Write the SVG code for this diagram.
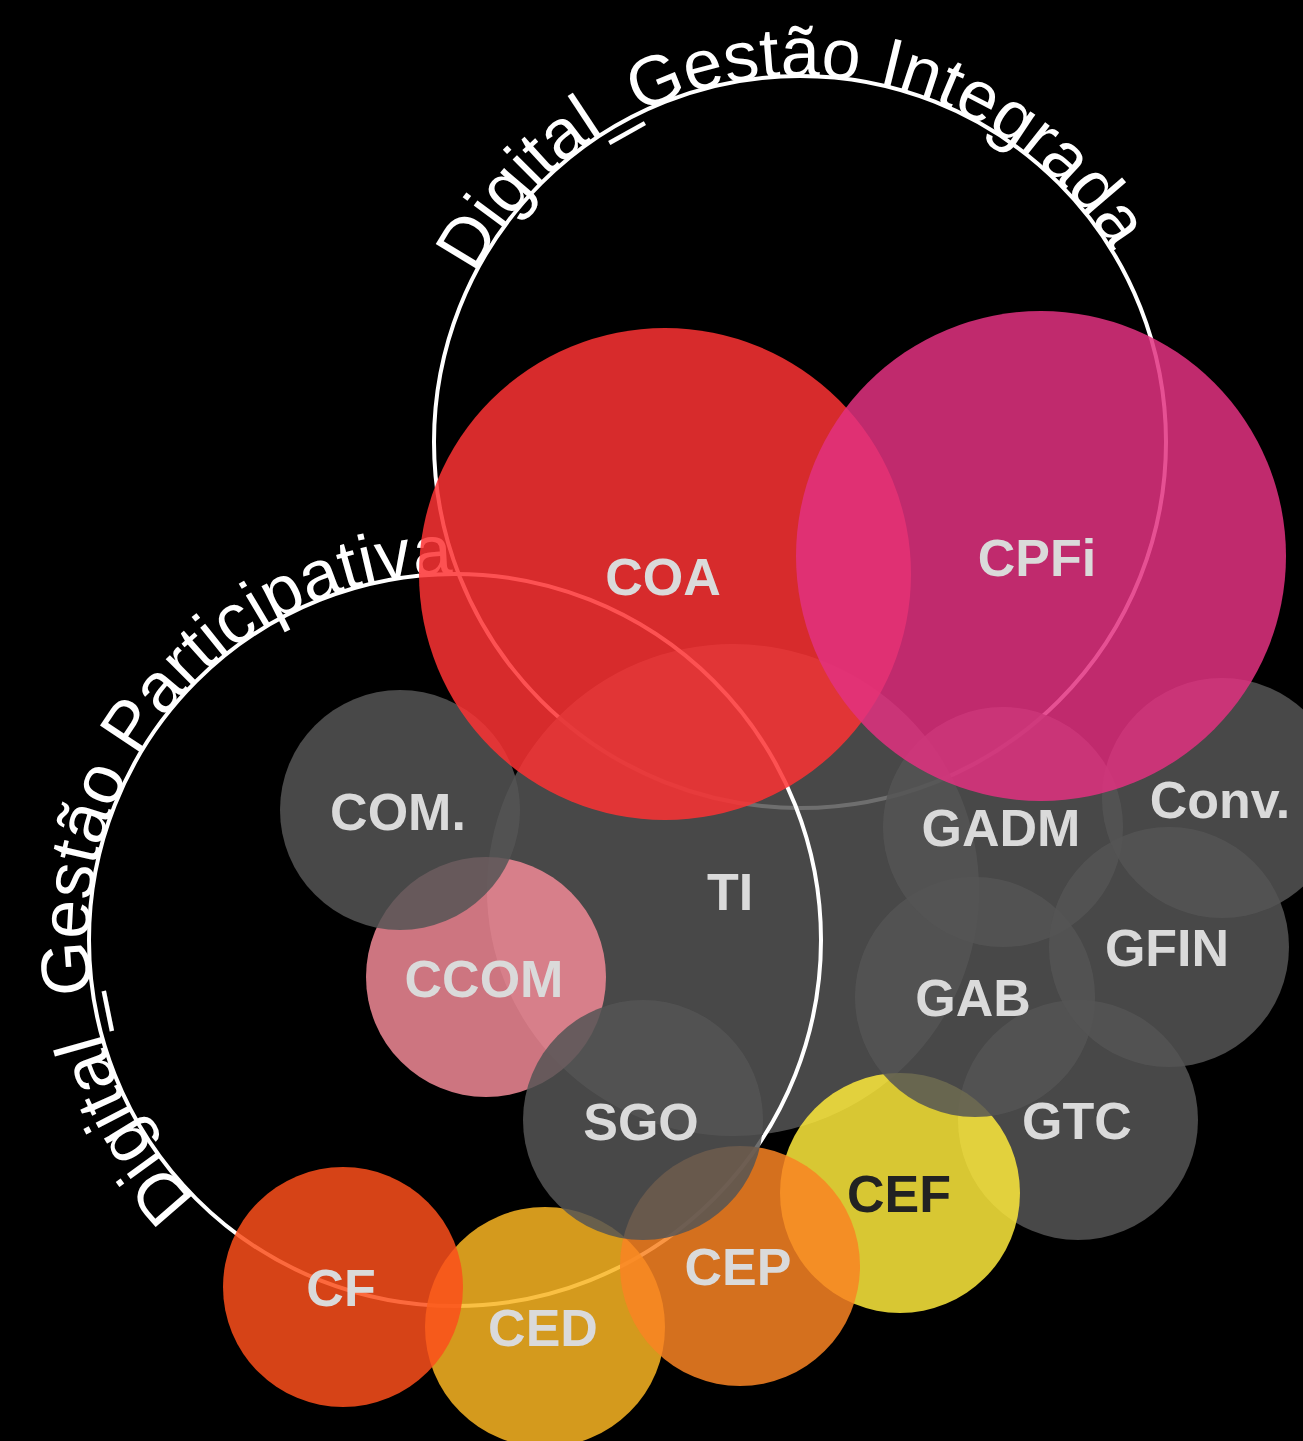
<svg xmlns="http://www.w3.org/2000/svg" width="1303" height="1441" viewBox="0 0 1303 1441">
<style>
.ring{fill:none;stroke:#fff;stroke-width:4}
.ringtext{font-family:"Liberation Sans",Arial,sans-serif;font-size:70px;fill:#fff}
.n{fill-opacity:.85}
.grey{fill:#555555}
.lbl{font-family:"Liberation Sans",Arial,sans-serif;font-weight:bold;font-size:52px;fill:#dadada;text-anchor:middle}
.dark{fill:#222222}
</style>
<defs>
<path id="pInt" d="M 434 442 A 366 366 0 0 1 1166 442 A 366 366 0 0 1 434 442"/>
<path id="pPar" d="M 455 1306 A 366 366 0 0 1 455 574 A 366 366 0 0 1 455 1306"/>
</defs>
<rect width="1303" height="1441" fill="#000"/>
<g id="set-gestao-integrada">
<circle class="ring" cx="800" cy="442" r="366"/>
<text class="ringtext"><textPath href="#pInt" startOffset="174">Digital_Gestão Integrada</textPath></text>
</g>
<g id="node-TI"><circle class="n grey" cx="733" cy="890" r="246"/><text class="lbl" x="730" y="910">TI</text></g>
<g id="set-gestao-participativa">
<circle class="ring" cx="455" cy="940" r="366"/>
<text class="ringtext"><textPath href="#pPar" startOffset="287">Digital_Gestão Participativa</textPath></text>
</g>
<g id="node-GTC"><circle class="n grey" cx="1078" cy="1120" r="120"/><text class="lbl" x="1077" y="1139">GTC</text></g>
<g id="node-CEF"><circle class="n" fill="#feea3c" cx="900" cy="1193" r="120"/><text class="lbl dark" x="899" y="1212">CEF</text></g>
<g id="node-GAB"><circle class="n grey" cx="975" cy="997" r="120"/><text class="lbl" x="973" y="1016">GAB</text></g>
<g id="node-CED"><circle class="n" fill="#f9b522" cx="545" cy="1327" r="120"/><text class="lbl" x="543" y="1346">CED</text></g>
<g id="node-CF"><circle class="n" fill="#fb4f1b" cx="343" cy="1287" r="120"/><text class="lbl" x="341" y="1306">CF</text></g>
<g id="node-CEP"><circle class="n" fill="#f98423" cx="740" cy="1266" r="120"/><text class="lbl" x="738" y="1285">CEP</text></g>
<g id="node-CCOM"><circle class="n" fill="#f18a97" cx="486" cy="977" r="120"/><text class="lbl" x="484" y="997">CCOM</text></g>
<g id="node-COM"><circle class="n grey" cx="400" cy="810" r="120"/><text class="lbl" x="398" y="830">COM.</text></g>
<g id="node-SGO"><circle class="n grey" cx="643" cy="1120" r="120"/><text class="lbl" x="641" y="1140">SGO</text></g>
<g id="node-GADM"><circle class="n grey" cx="1003" cy="827" r="120"/><text class="lbl" x="1001" y="846">GADM</text></g>
<g id="node-GFIN"><circle class="n grey" cx="1169" cy="947" r="120"/><text class="lbl" x="1167" y="966">GFIN</text></g>
<g id="node-Conv"><circle class="n grey" cx="1222" cy="798" r="120"/><text class="lbl" x="1220" y="818">Conv.</text></g>
<g id="node-COA"><circle class="n" fill="#fd3334" cx="665" cy="574" r="246"/><text class="lbl" x="663" y="595">COA</text></g>
<g id="node-CPFi"><circle class="n" fill="#e23180" cx="1041" cy="556" r="245"/><text class="lbl" x="1037" y="576">CPFi</text></g>
<g id="connectors"></g>
</svg>
